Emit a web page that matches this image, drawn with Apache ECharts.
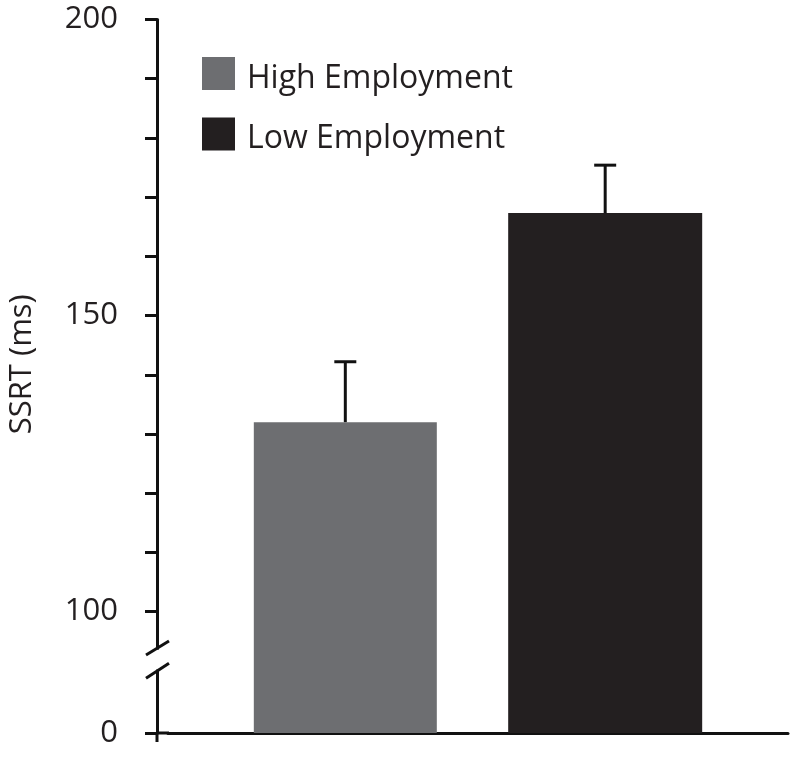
<!DOCTYPE html>
<html><head><meta charset="utf-8">
<script src="https://cdn.jsdelivr.net/npm/echarts@6/dist/echarts.min.js"></script>
<style>html,body{margin:0;padding:0;background:#fff}#c{width:800px;height:758px}</style>
</head><body><div id="c"></div>
<script>
// ---- data ----
const groups = ['High Employment', 'Low Employment'];
const means = [132.0, 167.3];
const errors = [10.2, 8.1];
const tickValues = [100, 110, 120, 130, 140, 150, 160, 170, 180, 190, 200];
const labelValues = [100, 150, 200];
const brokenBase = 79.5;        // axis value where the broken axis shows "0"
const brokenBaseLabel = '0';
const yMax = 200;

// ---- style ----
const colors = ['#6d6e71', '#231f20'];
const barWidths = [183, 194];
const barGapPct = 39;
const FONT = '"Open Sans", "Liberation Sans", sans-serif';
const INK = '#111111';
const GRID_LEFT = 168, Y_OFFSET = 11;

const g = barGapPct / 100;
let total = 0;
barWidths.forEach(w => total += w * (1 + g));
total -= barWidths[barWidths.length - 1] * g;
const offsets = [];
let cum = -total / 2;
barWidths.forEach(w => { offsets.push(cum + w / 2); cum += w * (1 + g); });

const chart = echarts.init(document.getElementById('c'), null, {renderer: 'canvas'});
const isBase = v => Math.abs(v - brokenBase) < 1e-6;

const barSeries = groups.map((name, i) => ({
  type: 'bar', name, data: [means[i]], barWidth: barWidths[i], barGap: barGapPct + '%',
  itemStyle: {color: colors[i]}, silent: true, z: 2
}));

const option = {
  animation: false,
  backgroundColor: '#ffffff',
  grid: {left: GRID_LEFT, right: 12, top: 19.5, bottom: 25, outerBoundsMode: 'none'},
  legend: {
    data: groups, orient: 'vertical', left: 202, top: 57, padding: 0, itemWidth: 33, itemHeight: 33, itemGap: 23,
    icon: 'rect', selectedMode: false,
    formatter: name => '{t|' + name + '}',
    textStyle: {
      fontSize: 32, color: '#231f20', fontFamily: FONT,
      rich: {t: {fontSize: 32, color: '#231f20', fontFamily: FONT, padding: [10, 0, 0, 7]}}
    }
  },
  xAxis: {
    type: 'category', data: [''],
    axisLine: {show: true, lineStyle: {color: INK, width: 3}},
    axisTick: {show: false}, axisLabel: {show: false}, splitLine: {show: false}
  },
  yAxis: {
    type: 'value', min: brokenBase, max: yMax, offset: Y_OFFSET,
    axisLine: {show: true, lineStyle: {color: INK, width: 3}},
    axisTick: {show: true, length: 12, lineStyle: {color: INK, width: 3}, customValues: [brokenBase].concat(tickValues)},
    axisLabel: {
      customValues: [brokenBase].concat(labelValues),
      formatter: v => isBase(v) ? brokenBaseLabel : String(Math.round(v)),
      fontSize: 31, color: '#231f20', fontFamily: FONT, margin: 39
    },
    splitLine: {show: false},
    name: 'SSRT (ms)', nameLocation: 'middle', nameGap: 119, nameRotate: 90,
    nameTextStyle: {fontSize: 31, color: '#231f20', fontFamily: FONT, padding: [0, 0, 0, 24]}
  },
  series: barSeries.concat([{
    type: 'custom', name: 'err', silent: true, z: 3,
    data: groups.map((n, i) => [0, means[i], means[i] + errors[i], i]),
    renderItem: (params, api) => {
      const idx = api.value(3);
      const c = api.coord([0, api.value(1)]);
      const t = api.coord([0, api.value(2)]);
      const x = c[0] + offsets[idx];
      return {type: 'group', children: [
        {type: 'line', shape: {x1: x, y1: c[1], x2: x, y2: t[1]}, style: {stroke: INK, lineWidth: 3}},
        {type: 'line', shape: {x1: x - 11, y1: t[1], x2: x + 11, y2: t[1]}, style: {stroke: INK, lineWidth: 3}}
      ]};
    }
  }])
};
chart.setOption(option);

// decorative axis break and origin joint
const yB = chart.convertToPixel({yAxisIndex: 0}, brokenBase);
const y100 = chart.convertToPixel({yAxisIndex: 0}, 100);
const ax = GRID_LEFT - Y_OFFSET;
const ls = {stroke: INK, lineWidth: 3};
chart.setOption({graphic: [
  {type: 'rect', z: 100, shape: {x: ax - 6, y: y100 + 38, width: 12, height: 20}, style: {fill: '#fff'}},
  {type: 'line', z: 101, shape: {x1: ax - 11, y1: y100 + 43.3, x2: ax + 12, y2: y100 + 29.3}, style: ls},
  {type: 'line', z: 101, shape: {x1: ax - 11, y1: y100 + 66.6, x2: ax + 12, y2: y100 + 51.6}, style: ls},
  {type: 'line', z: 101, shape: {x1: ax, y1: yB, x2: GRID_LEFT + 1, y2: yB}, style: ls},
  {type: 'line', z: 101, shape: {x1: ax, y1: yB, x2: ax, y2: yB + 9}, style: ls}
]});
</script></body></html>
